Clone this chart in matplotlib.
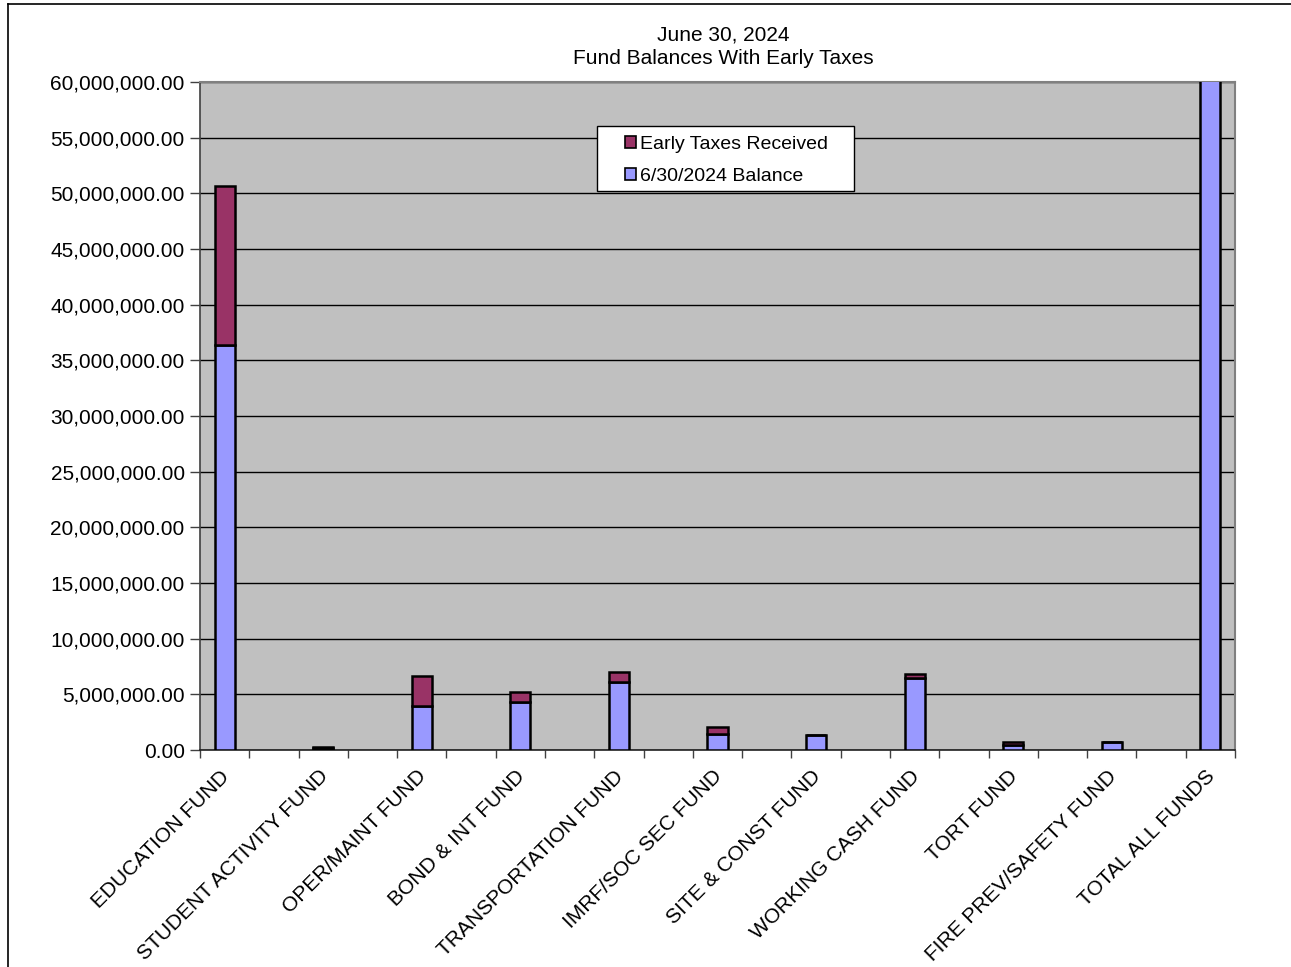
import matplotlib.pyplot as plt
from matplotlib.lines import Line2D
from matplotlib.patches import Patch, Rectangle
from matplotlib.ticker import FuncFormatter, MultipleLocator
from matplotlib.transforms import ScaledTranslation

FUNDS = [
    "EDUCATION FUND",
    "STUDENT ACTIVITY FUND",
    "OPER/MAINT FUND",
    "BOND & INT FUND",
    "TRANSPORTATION FUND",
    "IMRF/SOC SEC FUND",
    "SITE & CONST FUND",
    "WORKING CASH FUND",
    "TORT FUND",
    "FIRE PREV/SAFETY FUND",
]

# Values (dollars)
BALANCE = [36_380_000, 150_000, 3_980_000, 4_340_000, 6_080_000,
           1_470_000, 1_320_000, 6_500_000, 420_000, 690_000]
EARLY_TAXES = [14_280_000, 100_000, 2_670_000, 870_000, 900_000,
               630_000, 0, 300_000, 330_000, 0]

CATEGORIES = FUNDS + ["TOTAL ALL FUNDS"]
BALANCE_ALL = BALANCE + [sum(BALANCE)]
EARLY_ALL = EARLY_TAXES + [sum(EARLY_TAXES)]

BALANCE_COLOR = "#9999FF"
EARLY_COLOR = "#993366"

plt.rcParams["font.family"] = ["Liberation Sans", "DejaVu Sans"]
plt.rcParams["font.size"] = 15

W, H = 1291, 967
fig = plt.figure(figsize=(W / 100, H / 100), dpi=100)
ax = fig.add_axes([200 / W, 1 - 750 / H, 1035 / W, 668 / H])
ax.set_facecolor("#C0C0C0")

# the sheet has a blank column between funds, so bars sit on every other slot
n_slots = 2 * len(CATEGORIES) - 1
x = [2 * i for i in range(len(CATEGORIES))]
ax.bar(x, BALANCE_ALL, width=0.41, color=BALANCE_COLOR, edgecolor="black",
       linewidth=1.8, zorder=3)
ax.bar(x, EARLY_ALL, width=0.41, bottom=BALANCE_ALL, color=EARLY_COLOR,
       edgecolor="black", linewidth=1.8, zorder=3)

ax.set_xlim(-0.5, n_slots - 0.5)
ax.set_ylim(0, 60_000_000)
ax.yaxis.set_major_locator(MultipleLocator(5_000_000))
ax.yaxis.set_major_formatter(FuncFormatter(lambda v, _: f"{v:,.2f}"))
ax.grid(axis="y", color="black", linewidth=1.0, zorder=1)

ax.set_xticks(x)
ax.set_xticklabels(CATEGORIES, rotation=45, ha="right", rotation_mode="anchor")
ax.tick_params(axis="x", length=0, pad=12)
shift = ScaledTranslation(-5 / 100, 0, fig.dpi_scale_trans)
for label in ax.get_xticklabels():
    label.set_transform(label.get_transform() + shift)
ax.set_xticks([i - 0.5 for i in range(n_slots + 1)], minor=True)
ax.tick_params(axis="x", which="minor", length=6, width=1, color="#404040")
ax.tick_params(axis="y", length=7, width=1, color="#404040", pad=4)

for side in ["top", "right"]:
    ax.spines[side].set_color("#808080")
    ax.spines[side].set_linewidth(1.5)
ax.spines["bottom"].set_color("#202020")
ax.spines["bottom"].set_linewidth(1.2)
ax.spines["left"].set_color("#404040")
ax.spines["left"].set_linewidth(1.2)

fig.text(723 / W, 1 - 35 / H, "June 30, 2024", ha="center", va="center", fontsize=15)
fig.text(723 / W, 1 - 59 / H, "Fund Balances With Early Taxes", ha="center",
         va="center", fontsize=15)

# legend: white box drawn separately, entries placed inside it
ax.add_patch(Rectangle(((597 - 200) / 1035, (750 - 191) / 668), 257 / 1035, 65 / 668,
                       transform=ax.transAxes, facecolor="white", edgecolor="black",
                       linewidth=1.0, zorder=4))
handles = [
    Patch(facecolor=EARLY_COLOR, edgecolor="black", linewidth=1.2),
    Patch(facecolor=BALANCE_COLOR, edgecolor="black", linewidth=1.2),
]
leg = ax.legend(handles, ["Early Taxes Received", "6/30/2024 Balance"],
                loc="center left",
                bbox_to_anchor=((625 - 200) / 1035, (750 - 160.5) / 668),
                frameon=False, fontsize=14, handlelength=0.55, handleheight=0.55,
                handletextpad=0.2, labelspacing=0.75, borderpad=0, borderaxespad=0)
leg.set_zorder(5)

# outer chart border (top and left visible)
fig.add_artist(Line2D([8 / W, 8 / W], [0, 1 - 4 / H], color="black", linewidth=1.2))
fig.add_artist(Line2D([8 / W, 1], [1 - 4 / H, 1 - 4 / H], color="black", linewidth=1.2))

fig.savefig("out.png", dpi=100)
